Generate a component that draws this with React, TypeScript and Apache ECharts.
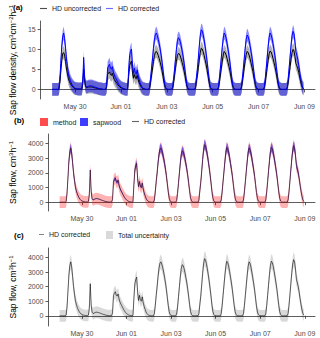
import React, { useEffect, useRef } from "react";
import * as echarts from "echarts";

// ---- time base: hourly values from May 29 00:00 (UTC ms timestamps) ----
const START = Date.UTC(2019, 4, 29);
const HOUR = 3600000;

const X_TICK_DATES = ["2019-05-30", "2019-06-01", "2019-06-03", "2019-06-05", "2019-06-07", "2019-06-09"];
const X_TICK_LABELS = ["May 30", "Jun 01", "Jun 03", "Jun 05", "Jun 07", "Jun 09"];
const Y_TICKS_DENSITY = [0, 5, 10, 15];
const Y_TICKS_FLOW = [0, 1000, 2000, 3000, 4000];

// Sap flow (HD corrected), cm3 h-1, hourly (one line per day, May 29 .. Jun 08)
const FLOW_CORRECTED = [
  0, 0, 0, 0, 0, 0, 0, 50, 600, 1700, 2800, 3450, 3700, 3350, 2700, 2000, 1500, 1050, 780, 580, 420, 300, 200, 130,
  90, 60, 40, 30, 20, 20, 20, 50, 500, 2200, 700, 250, 150, 180, 220, 240, 250, 230, 220, 200, 170, 150, 120, 100,
  80, 60, 40, 30, 20, 10, 10, 10, 20, 200, 1400, 1550, 1650, 1400, 1350, 1500, 1150, 950, 800, 680, 550, 430, 320, 230,
  160, 110, 70, 40, 20, 10, 10, 30, 1200, 2200, 2500, 2650, 1600, 1050, 1400, 1100, 1000, 1300, 900, 650, 450, 280, 150, 80,
  40, 20, 10, 0, 0, 0, 150, 700, 1400, 2000, 2700, 3250, 3600, 3700, 3550, 3300, 3000, 2650, 2250, 1800, 1250, 700, 280, 80,
  20, 0, 0, 0, 0, 0, 120, 600, 1300, 2000, 2700, 3250, 3500, 3450, 3250, 2950, 2600, 2250, 1800, 1300, 750, 300, 90, 20,
  0, 0, 0, 0, 0, 0, 150, 800, 1350, 2100, 2900, 3550, 3920, 3850, 3600, 3250, 2850, 2400, 1900, 1350, 750, 300, 90, 20,
  0, 0, 0, 0, 0, 0, 150, 700, 1400, 2100, 2800, 3400, 3740, 3650, 3400, 3050, 2650, 2250, 1800, 1250, 700, 280, 80, 20,
  0, 0, 0, 0, 0, 0, 150, 700, 1400, 2100, 2800, 3400, 3700, 3600, 3350, 3000, 2600, 2200, 1750, 1200, 650, 260, 80, 20,
  0, 0, 0, 0, 0, 0, 150, 700, 1400, 2150, 2850, 3450, 3740, 3650, 3400, 3050, 2650, 2250, 1800, 1250, 700, 280, 80, 20,
  0, 0, 0, 0, 0, 0, 150, 700, 1450, 2200, 2950, 3550, 3850, 3700, 3200, 2500, 2250, 2000, 1600, 1150, 750, 400, 150, 40,
];

// Sap flow density, HD corrected, cm3 cm-2 h-1
const DENSITY_CORRECTED = [
  0, 0, 0, 0, 0, 0, 0, 0.2, 2.3, 6.5, 10.6, 13.1, 14.1, 12.7, 10.3, 7.6, 5.7, 4.0, 3.0, 2.2, 1.6, 1.1, 0.8, 0.5,
  0.3, 0.2, 0.2, 0.1, 0.1, 0.1, 0.1, 0.2, 1.9, 8.0, 2.7, 1.0, 0.6, 0.7, 0.8, 0.9, 0.9, 0.9, 0.8, 0.8, 0.6, 0.6, 0.5, 0.4,
  0.3, 0.2, 0.2, 0.1, 0.1, 0, 0, 0, 0.1, 0.8, 5.3, 5.9, 6.3, 5.3, 5.1, 5.7, 4.4, 3.6, 3.0, 2.6, 2.1, 1.6, 1.2, 0.9,
  0.6, 0.4, 0.3, 0.2, 0.1, 0, 0, 0.1, 4.6, 8.4, 9.5, 10.1, 6.1, 4.0, 5.3, 4.2, 3.8, 4.9, 3.4, 2.5, 1.7, 1.1, 0.6, 0.3,
  0.2, 0.1, 0, 0, 0, 0, 0.6, 2.7, 5.3, 7.6, 10.3, 12.4, 13.7, 14.1, 13.5, 12.5, 11.4, 10.1, 8.6, 6.8, 4.8, 2.7, 1.1, 0.3,
  0.1, 0, 0, 0, 0, 0, 0.5, 2.2, 4.8, 7.4, 10.0, 12.0, 12.9, 12.7, 12.0, 10.9, 9.6, 8.3, 6.6, 4.8, 2.8, 1.1, 0.3, 0.1,
  0, 0, 0, 0, 0, 0, 0.6, 3.0, 5.1, 8.0, 11.0, 13.5, 14.9, 14.6, 13.7, 12.4, 10.8, 9.1, 7.2, 5.1, 2.9, 1.1, 0.3, 0.1,
  0, 0, 0, 0, 0, 0, 0.6, 2.6, 5.3, 7.9, 10.5, 12.8, 14.1, 13.7, 12.8, 11.5, 10.0, 8.5, 6.8, 4.7, 2.6, 1.1, 0.3, 0.1,
  0, 0, 0, 0, 0, 0, 0.6, 2.6, 5.1, 7.7, 10.3, 12.5, 13.6, 13.2, 12.3, 11.0, 9.6, 8.1, 6.4, 4.4, 2.4, 1.0, 0.3, 0.1,
  0, 0, 0, 0, 0, 0, 0.6, 2.6, 5.3, 8.1, 10.7, 13.0, 14.1, 13.7, 12.8, 11.5, 10.0, 8.5, 6.8, 4.7, 2.6, 1.1, 0.3, 0.1,
  0, 0, 0, 0, 0, 0, 0.6, 2.6, 5.5, 8.3, 11.1, 13.4, 14.5, 13.9, 12.0, 9.4, 8.5, 7.5, 6.0, 4.3, 2.8, 1.5, 0.6, 0.2,
];

// Sap flow density, HD uncorrected
const DENSITY_UNCORRECTED = [
  0, 0, 0, 0, 0, 0, 0, 0.1, 1.6, 4.4, 7.2, 8.9, 9.2, 8.6, 7.0, 5.1, 3.9, 2.7, 2.0, 1.5, 1.1, 0.8, 0.5, 0.3,
  0.2, 0.2, 0.1, 0.1, 0.1, 0.1, 0.1, 0.1, 1.2, 5.0, 1.9, 0.7, 0.4, 0.5, 0.6, 0.6, 0.6, 0.6, 0.6, 0.5, 0.4, 0.4, 0.3, 0.3,
  0.2, 0.2, 0.1, 0.1, 0.1, 0, 0, 0, 0.1, 0.6, 3.7, 4.1, 4.4, 3.7, 3.5, 4.0, 3.1, 2.5, 2.1, 1.8, 1.5, 1.1, 0.8, 0.6,
  0.4, 0.3, 0.2, 0.1, 0.1, 0, 0, 0.1, 3.2, 5.9, 6.7, 7.1, 4.3, 2.8, 3.7, 2.9, 2.7, 3.5, 2.4, 1.7, 1.2, 0.7, 0.4, 0.2,
  0.1, 0.1, 0, 0, 0, 0, 0.4, 1.8, 3.6, 5.1, 7.0, 8.4, 9.3, 9.5, 9.1, 8.5, 7.7, 6.8, 5.8, 4.6, 3.2, 1.8, 0.7, 0.2,
  0.1, 0, 0, 0, 0, 0, 0.3, 1.6, 3.4, 5.2, 7.0, 8.4, 9.0, 8.9, 8.4, 7.6, 6.7, 5.8, 4.6, 3.4, 2.0, 0.8, 0.2, 0.1,
  0, 0, 0, 0, 0, 0, 0.4, 2.1, 3.5, 5.5, 7.6, 9.3, 10.3, 10.1, 9.4, 8.5, 7.4, 6.3, 5.0, 3.5, 2.0, 0.8, 0.2, 0.1,
  0, 0, 0, 0, 0, 0, 0.4, 1.8, 3.6, 5.3, 7.1, 8.6, 9.5, 9.2, 8.6, 7.7, 6.7, 5.7, 4.6, 3.2, 1.8, 0.7, 0.2, 0.1,
  0, 0, 0, 0, 0, 0, 0.4, 1.8, 3.6, 5.4, 7.2, 8.7, 9.5, 9.2, 8.6, 7.7, 6.7, 5.6, 4.5, 3.1, 1.7, 0.7, 0.2, 0.1,
  0, 0, 0, 0, 0, 0, 0.4, 1.8, 3.6, 5.5, 7.3, 8.9, 9.6, 9.4, 8.7, 7.8, 6.8, 5.8, 4.6, 3.2, 1.8, 0.7, 0.2, 0.1,
  0, 0, 0, 0, 0, 0, 0.4, 1.8, 3.8, 5.7, 7.7, 9.2, 10.0, 9.6, 8.3, 6.5, 5.9, 5.2, 4.2, 3.0, 1.9, 1.0, 0.4, 0.1,
];

// uncertainty read from the ribbons
const DENSITY_CORRECTED_UNC = 1.6; // +- cm3 cm-2 h-1
const DENSITY_UNCORRECTED_UNC = 1.6;
const METHOD_UNC = 400; // +- cm3 h-1
const SAPWOOD_REL_UNC = 0.08; // relative

const FONT = "Liberation Sans, Arial, Helvetica, sans-serif";
const LINE_ICON = "path://M0,0H10V1.6H0Z";

const tickTimes = X_TICK_DATES.map((d) => Date.parse(d + "T00:00:00Z"));
const t = (i: number) => START + i * HOUR;
const pairs = (vals: number[]) => vals.map((v, i) => [t(i), v]);

// Ribbon = two stacked line series (lower edge + thickness filled).
// Value comes first in each item so that the y dimension is the stacked one.
function band(name: string, axis: number, lo: number[], hi: number[], color: string) {
  const common = {
    type: "line",
    xAxisIndex: axis,
    yAxisIndex: axis,
    stack: name,
    stackStrategy: "all",
    encode: { x: 1, y: 0 },
    symbol: "none",
    showSymbol: false,
    lineStyle: { width: 0, opacity: 0 },
    silent: true,
  };
  return [
    { ...common, name: name + " lower", data: lo.map((v, i) => [v, t(i)]) },
    {
      ...common,
      name,
      data: hi.map((v, i) => [v - lo[i], t(i)]),
      areaStyle: { color, opacity: 1 },
    },
  ];
}

function line(name: string, axis: number, vals: number[], color: string, width = 1) {
  return {
    name,
    type: "line",
    xAxisIndex: axis,
    yAxisIndex: axis,
    data: pairs(vals),
    symbol: "none",
    lineStyle: { color, width, join: "round" },
    silent: true,
  };
}

export default function App() {
  const ref = useRef<HTMLDivElement>(null);
  useEffect(() => {
    document.body.style.margin = "0";
    const chart = echarts.init(ref.current!, null, { renderer: "svg" });

    const sapwoodHalf = FLOW_CORRECTED.map((v) => SAPWOOD_REL_UNC * v);
    const totalHalf = FLOW_CORRECTED.map((v, i) => Math.sqrt(METHOD_UNC * METHOD_UNC + sapwoodHalf[i] * sapwoodHalf[i]));

    const xAxes = [0, 1, 2].map((g) => ({
      type: "value",
      gridIndex: g,
      min: t(-12),
      max: t(275),
      axisLine: { lineStyle: { color: "#333", width: 0.8 } },
      axisTick: { customValues: tickTimes, length: 3, lineStyle: { color: "#333", width: 0.8 } },
      axisLabel: {
        customValues: tickTimes,
        formatter: (v: number) => {
          const k = tickTimes.indexOf(v);
          return k >= 0 ? X_TICK_LABELS[k] : "";
        },
        fontSize: 7,
        color: "#4d4d4d",
        margin: 4,
        fontFamily: FONT,
      },
      splitLine: { show: false },
    }));

    const yCommon = (g: number, min: number, max: number, ticks: number[], name: string, gap: number) => ({
      type: "value",
      gridIndex: g,
      min,
      max,
      name,
      nameLocation: "middle",
      nameRotate: 90,
      nameGap: gap,
      nameTextStyle: {
        color: "#000",
        fontFamily: FONT,
        rich: {
          n: { fontSize: 8.5, fontFamily: FONT, color: "#000" },
          s: { fontSize: 6, fontFamily: FONT, color: "#000", verticalAlign: "top" },
        },
      },
      axisLine: { show: true, lineStyle: { color: "#333", width: 0.8 } },
      axisTick: { show: true, customValues: ticks, length: 3, lineStyle: { color: "#333", width: 0.8 } },
      axisLabel: {
        customValues: ticks,
        formatter: (v: number) => String(v),
        fontSize: 7,
        color: "#4d4d4d",
        margin: 5,
        fontFamily: FONT,
      },
      splitLine: { show: false },
    });

    const legendItem = (left: number, top: number, name: string, icon: string, color: string, w: number) => ({
      left,
      top,
      padding: 0,
      itemWidth: w,
      itemHeight: 8,
      selectedMode: false,
      textStyle: { fontSize: 7, color: "#1a1a1a", fontFamily: FONT, padding: 0 },
      data: [{ name, icon, itemStyle: { color, borderWidth: 0 } }],
    });

    const option = {
      animation: false,
      backgroundColor: "#fff",
      title: [
        { text: "(a)", left: 13, top: 3, padding: 0, textStyle: { fontSize: 8, fontWeight: "bold", color: "#000", fontFamily: FONT } },
        { text: "(b)", left: 14, top: 116, padding: 0, textStyle: { fontSize: 8, fontWeight: "bold", color: "#000", fontFamily: FONT } },
        { text: "(c)", left: 14, top: 231, padding: 0, textStyle: { fontSize: 8, fontWeight: "bold", color: "#000", fontFamily: FONT } },
      ],
      legend: [
        legendItem(40, 5, "HD uncorrected", LINE_ICON, "#4d4d4d", 7),
        legendItem(106, 5, "HD corrected", LINE_ICON, "#6b6bff", 7),
        legendItem(40, 118, "method", "rect", "#ff4d4d", 8),
        legendItem(80, 118, "sapwood", "rect", "#3d3dff", 8),
        legendItem(132, 118, "HD corrected", LINE_ICON, "#666", 7),
        legendItem(39, 231, "HD corrected", LINE_ICON, "#666", 5),
        legendItem(106, 231, "Total uncertainty", "rect", "#d9d9d9", 7),
      ],
      grid: [
        { left: 36, right: 5, top: 21, height: 78 },
        { left: 36, right: 5, top: 134, height: 77 },
        { left: 36, right: 5, top: 248, height: 78 },
      ],
      xAxis: xAxes,
      yAxis: [
        yCommon(0, -2.4, 17.1, Y_TICKS_DENSITY, "{n|Sap flow density, cm}{s|3}{n|cm}{s|−2}{n|h}{s|−1}", 23),
        yCommon(1, -600, 4650, Y_TICKS_FLOW, "{n|Sap flow, cm}{s|3}{n|h}{s|−1}", 22),
        yCommon(2, -700, 4650, Y_TICKS_FLOW, "{n|Sap flow, cm}{s|3}{n|h}{s|−1}", 22),
      ],
      series: [
        // (a)
        ...band(
          "HD uncorrected band",
          0,
          DENSITY_UNCORRECTED.map((v) => v - DENSITY_UNCORRECTED_UNC),
          DENSITY_UNCORRECTED.map((v) => v + DENSITY_UNCORRECTED_UNC),
          "rgba(0,0,0,0.3)"
        ),
        ...band(
          "HD corrected band",
          0,
          DENSITY_CORRECTED.map((v) => v - DENSITY_CORRECTED_UNC),
          DENSITY_CORRECTED.map((v) => v + DENSITY_CORRECTED_UNC),
          "rgba(0,0,255,0.45)"
        ),
        line("HD uncorrected", 0, DENSITY_UNCORRECTED, "#000"),
        line("HD corrected", 0, DENSITY_CORRECTED, "#0000ff"),
        // (b)
        ...band(
          "method",
          1,
          FLOW_CORRECTED.map((v) => v - METHOD_UNC),
          FLOW_CORRECTED.map((v) => v + METHOD_UNC),
          "rgba(255,0,0,0.3)"
        ),
        ...band(
          "sapwood",
          1,
          FLOW_CORRECTED.map((v, i) => v - sapwoodHalf[i]),
          FLOW_CORRECTED.map((v, i) => v + sapwoodHalf[i]),
          "rgba(0,0,255,0.5)"
        ),
        line("HD corrected", 1, FLOW_CORRECTED, "rgba(60,20,50,0.8)"),
        // (c)
        ...band(
          "Total uncertainty",
          2,
          FLOW_CORRECTED.map((v, i) => v - totalHalf[i]),
          FLOW_CORRECTED.map((v, i) => v + totalHalf[i]),
          "rgba(0,0,0,0.15)"
        ),
        line("HD corrected", 2, FLOW_CORRECTED, "rgba(0,0,0,0.6)"),
      ],
    };

    chart.setOption(option as any);
    return () => chart.dispose();
  }, []);

  return <div ref={ref} style={{ position: "absolute", left: 0, top: 0, width: 320, height: 338 }} />;
}
